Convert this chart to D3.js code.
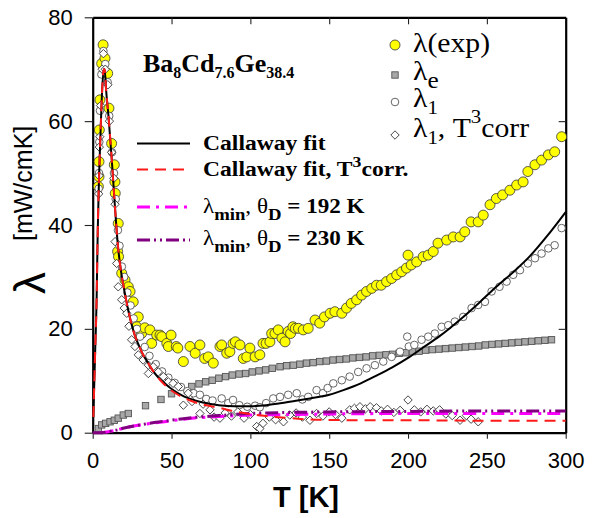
<!DOCTYPE html>
<html>
<head>
<meta charset="utf-8">
<script src="https://cdn.jsdelivr.net/npm/d3@7"></script>
<style>
  body { margin: 0; background: #fff; }
  svg { display: block; }
  .tick text { font-family: "Liberation Sans", Arial, sans-serif; font-size: 22px; fill: #000; }
  .serif { font-family: "Liberation Serif", "Times New Roman", serif; }
</style>
</head>
<body>
<div id="chart"></div>
<script>
// lambda(exp), yellow circles: [T, lambda]
const expData = [
  [3.6,47.4],[4,49.3],[4,52.2],[4.2,58.3],[4.6,64.1],[5.7,71.1],[6.6,74.7],[7.8,72.1],[9.5,69.2],[10.3,62.5],
  [12,55.7],[13.7,51.6],[14.1,48.3],[14.3,46.1],[16.2,40.3],[15.8,34.9],[16.4,33.9],[18.4,30.7],[20.5,29.4],[22.6,28.1],
  [23.7,27.2],[25.7,25.2],[28.9,22.3],[27.9,20.4],[31,19.1],[33,20.2],[36.3,19.8],[37.4,17.2],[40.6,18.8],[42.7,18.8],
  [43.8,18.5],[47,17.2],[48,16.6],[49.7,18.8],[53,16.6],[54,16.3],[57.5,13.7],[61.7,16.6],[65,15.3],[68,16.9],
  [71,14.3],[73.3,14.6],[76.5,13.4],[80.7,16.6],[81.8,16.9],[85,15.3],[87,15.6],[89,17.2],[90.5,17.5],[93.4,16.9],
  [95.5,14.3],[97.7,14.6],[99.7,16.3],[103,14.6],[106,15],[108,17.2],[110,17.2],[112.4,17.5],[113.5,19.1],[115.6,19.1],
  [117.7,19.8],[120,18.2],[122,17.5],[124,19.5],[125.5,19.1],[127,20.4],[128.5,20.1],[130.5,20.1],[133.5,19.8],[136.7,20.1],
  [141,21.7],[144,21.1],[147,22.3],[150.6,23],[153.6,23.3],[158,23],[161,24],[164,24.9],[167.4,25.6],[170.6,26.5],
  [173.7,27.2],[177,27.8],[180,28.4],[183,28.4],[186.4,29.1],[189.6,29.7],[192.8,30.4],[196,31],[199,31.7],[200,34.2],
  [202,32.3],[205.5,32.9],[209.6,33.9],[212.8,34.2],[216,34.9],[219,36.5],[224.5,37.1],[228.7,37.7],[233,37.7],[236,38.7],
  [240,40.6],[244.5,40.6],[247.7,41.9],[252,43.9],[256,45.1],[260,45.8],[264.6,46.7],[268.9,47.7],[273,48.3],[276,50.3],
  [280.5,51.6],[284.7,52.5],[289,53.5],[293,54.1],[297.4,57]
];

// lambda_e, grey squares
const elecData = [
  [3.6,0.8],[5.7,1.5],[8.2,1.8],[11,2.1],[13.7,2.4],[16.2,2.8],[19.4,3.4],[22.6,3.7],[33.5,5.2],[43.3,6.4],
  [50,7.5],[62.8,8.9],[67.4,9.4],[71.7,9.8],[75.8,10.1],[80,10.5],[84.3,10.8],[88.5,11.1],[92.8,11.3],[97,11.4],
  [101.2,11.7],[105.5,11.9],[109.7,12.1],[113.9,12.4],[118.8,12.7],[123,12.9],[127.2,13.0],[131.4,13.2],[135.6,13.4],[139.8,13.5],
  [144,13.7],[148.2,13.8],[152.4,14.0],[156.6,14.1],[160.8,14.2],[165,14.4],[169.2,14.5],[173.4,14.6],[177.6,14.8],[181.8,14.9],
  [186,15.0],[190.2,15.1],[194.4,15.3],[198.6,15.4],[202.8,15.6],[207,15.7],[211.2,15.9],[215.4,16.0],[219.6,16.1],[223.8,16.2],
  [228,16.3],[232.2,16.4],[236.4,16.5],[240.6,16.6],[244.8,16.7],[249,16.9],[253.2,17.0],[257.4,17.1],[261.6,17.2],[265.8,17.3],
  [270,17.4],[274.2,17.5],[278.4,17.6],[282.6,17.7],[286.8,17.8],[291,17.9]
];

// lambda_1, open circles
const l1Data = [
  [3.8,47],[4,50],[4.2,56],[4.6,62],[5.5,69],[6.8,73.5],[8,71],[9.5,67.5],[10.5,61],[12.2,54],
  [13.5,50],[14.6,45],[16,39],[17,36],[18.5,32],[20,30],[22,27],[24,24.5],[26,22],[28,20],
  [30,18.5],[33,16.5],[36,14.8],[40,13.2],[44,11.8],[48,10.6],[52,9.6],[56,8.8],[60,8],[64,7.6],
  [68,7.3],[72,6.5],[76,6.2],[81.8,6.6],[86,5.7],[89,6.3],[93,5.3],[98,5],[103,5.2],[106,4.9],
  [110,5.7],[114.5,6.6],[118.8,6.9],[124,7.3],[129.4,7.6],[133,6.4],[136.7,6.9],[142,8.2],[146,7.6],[149,8.6],
  [152.6,9.5],[158,10.1],[163,10.8],[168.4,11.7],[173.7,12.4],[179,13],[184.3,13.7],[189.6,14.6],[194.9,15.6],[199.5,18.5],
  [200.5,16.6],[204,16.9],[208.6,17.9],[212.8,18.5],[217,19.1],[221.3,20.4],[225.5,20.7],[229.7,21.4],[235,22.3],[240.3,24],
  [244.5,24.6],[248.8,25.2],[253,27.2],[258,28.1],[262.5,29.1],[266.7,30.4],[271,31.3],[276,32.6],[280.5,33.6],[284.7,34.5],
  [289,35.5],[293,36.1],[297.4,39.4]
];

// lambda_1 with T^3 correction, diamonds
const l1corrData = [
  [3.8,46],[4,49.5],[4.2,55],[4.5,57],[5,63],[6,70],[6.8,73],[8,70],[9.6,67],[10.6,60],
  [12,54],[13.4,49],[14.2,44],[14.2,36.8],[15.2,32.6],[16.2,28.1],[18.4,25.6],[20,24],[21.6,23],[23,20.5],
  [24.7,17.9],[26.8,16.6],[28.9,15],[32,14],[35.3,13],[35.3,11.4],[38.4,12.7],[41.6,11.7],[44.8,10.8],[48,9.8],
  [51,9.5],[54.3,8.9],[57.5,5.3],[60.6,7.6],[63,6],[68,3.7],[70,5.5],[74.4,4.4],[77,3],[80.7,2.8],
  [84,3.8],[88,3.2],[92,4],[96,2.8],[100,3.5],[104,1.2],[106,0.8],[108,1.8],[112,3],[116,2.5],
  [121,2.1],[125,3.4],[129,3.8],[133,3],[137.8,2.4],[142,3.7],[146,3.2],[150,4],[154,3.5],[158,2.8],
  [163,4.4],[166,4.7],[169.5,5],[173,4.6],[176,5],[180,4.8],[183,4.2],[187,4.5],[191,3.9],[195,4.3],
  [200,6.3],[204,4.4],[208,4],[212,4.5],[216,4.2],[220,4.4],[224,3.6],[228,3.3],[233,2.4],[237,3.3],
  [240,2.6],[244.5,2.1]
];

// Callaway fit (solid black)
const fitData = [
  [0.4,3],[1.5,15],[2.5,26],[3.2,39],[4,49],[5,58],[6,66],[7,70],[7.6,70],[8.5,66],
  [10,61],[12,53],[14,44],[16,36],[18,31],[20,27.5],[22.6,23.5],[25,20.5],[27,18.5],[30,16.3],
  [32,15],[35,13.5],[37.4,12.3],[40,11.2],[43.8,10],[48,8.9],[52,8],[56,7.3],[61,6.6],[70,5.8],
  [80,5.3],[90,5.1],[100,5.1],[110,5.3],[120,5.7],[130,6.2],[137.8,6.6],[150,7.3],[159,8.2],[170,9.5],
  [180,11],[190,12.6],[201,14.6],[210,16.5],[220,18.6],[235,22.3],[245,25],[256,28.1],[267,31],[277,33.9],
  [288,37.8],[300,42.5]
];

// Callaway fit, T^3 corr. (red dashed)
const fitCorrData = [
  [0.4,3],[1.5,15],[2.5,26],[3.2,39],[4,49],[5,58],[6,66],[7,70],[7.6,70],[8.5,66],
  [10,61],[12,53],[14,44],[16,36],[18,31],[20,27.5],[22.6,23.5],[25,20.5],[27,18.5],[30,16.3],
  [32,15],[35,13.5],[37.4,12.3],[40,11.2],[43.8,9.8],[48,8.6],[52,7.7],[56,7],[61,6.3],[70,5.4],
  [80,4.8],[90,4.1],[100,3.6],[110,3.2],[125,2.8],[142,2.5],[170,2.4],[200,2.4],[250,2.3],[300,2.3]
];

// lambda_min, theta_D = 192 K (magenta)
const min192Data = [
  [5,0],[10,0.2],[15,0.5],[20,0.9],[30,1.5],[40,1.9],[50,2.3],[60,2.7],[80,3.1],[100,3.4],
  [125,3.5],[150,3.6],[200,3.7],[250,3.7],[300,3.7]
];

// lambda_min, theta_D = 230 K (purple)
const min230Data = [
  [0,0],[6,0],[10,0.2],[15,0.5],[20,0.9],[30,1.5],[40,2.0],[50,2.4],[60,2.8],[80,3.3],
  [100,3.7],[125,3.9],[150,4.0],[200,4.1],[250,4.2],[300,4.2]
];

const xTicks = [0, 50, 100, 150, 200, 250, 300];
const yTicks = [0, 20, 40, 60, 80];

function renderChart() {
  const width = 593, height = 518;
  const svg = d3.select("#chart").append("svg").attr("width", width).attr("height", height);

  const x = d3.scaleLinear().domain([0, 300]).range([92.7, 565.7]);
  const y = d3.scaleLinear().domain([0, 80]).range([432.7, 17.3]);

  // axes, mirrored ticks point inward on top and right
  const axL = svg.append("g").attr("transform", `translate(${x(0)},0)`)
    .call(d3.axisLeft(y).tickValues(yTicks).tickSize(8).tickPadding(12).tickSizeOuter(0));
  const axB = svg.append("g").attr("transform", `translate(0,${y(0)})`)
    .call(d3.axisBottom(x).tickValues(xTicks).tickSize(6).tickPadding(14).tickSizeOuter(0));
  const axT = svg.append("g").attr("transform", `translate(0,${y(80)})`)
    .call(d3.axisBottom(x).tickValues(xTicks.slice(1, -1)).tickSize(7).tickFormat("").tickSizeOuter(0));
  const axR = svg.append("g").attr("transform", `translate(${x(300)},0)`)
    .call(d3.axisLeft(y).tickValues(yTicks.slice(1, -1)).tickSize(7).tickFormat("").tickSizeOuter(0));
  [axL, axB, axT, axR].forEach(a => {
    a.select(".domain").attr("stroke", "#000").attr("stroke-width", 2.2);
    a.selectAll(".tick line").attr("stroke", "#222").attr("stroke-width", 1.1);
  });

  // markers
  svg.append("g").selectAll("rect").data(elecData).enter().append("rect")
    .attr("x", d => x(d[0]) - 3.2).attr("y", d => y(d[1]) - 3.2)
    .attr("width", 6.4).attr("height", 6.4)
    .attr("fill", "#a8a8a8").attr("stroke", "#555").attr("stroke-width", 0.9);

  svg.append("g").selectAll("circle").data(expData).enter().append("circle")
    .attr("cx", d => x(d[0])).attr("cy", d => y(d[1])).attr("r", 5)
    .attr("fill", "#ffff00").attr("stroke", "#333").attr("stroke-width", 0.8);

  svg.append("g").selectAll("circle").data(l1Data).enter().append("circle")
    .attr("cx", d => x(d[0])).attr("cy", d => y(d[1])).attr("r", 3.8)
    .attr("fill", "#fff").attr("stroke", "#555").attr("stroke-width", 0.9);

  const diamond = "M0,-4.2L4.2,0L0,4.2L-4.2,0Z";
  svg.append("g").selectAll("path").data(l1corrData).enter().append("path")
    .attr("transform", d => `translate(${x(d[0])},${y(d[1])})`)
    .attr("d", diamond)
    .attr("fill", "#fff").attr("stroke", "#333").attr("stroke-width", 0.9);

  // lines
  const line = d3.line().x(d => x(d[0])).y(d => y(d[1])).curve(d3.curveMonotoneX);
  const lineStyles = [
    { data: min192Data, color: "#ff00ff", w: 3, dash: "13,6,3,6" },
    { data: min230Data, color: "#800080", w: 3, dash: "13,4,2,4,2,4" },
    { data: fitData, color: "#000", w: 2, dash: null },
    { data: fitCorrData, color: "#ff1a1a", w: 2, dash: "11,7" }
  ];
  lineStyles.forEach(s => {
    svg.append("path").datum(s.data).attr("d", line)
      .attr("fill", "none").attr("stroke", s.color).attr("stroke-width", s.w)
      .attr("stroke-dasharray", s.dash);
  });

  // axis titles
  svg.append("text").attr("x", 273).attr("y", 507)
    .attr("font-family", "Liberation Sans, Arial, sans-serif").attr("font-weight", "bold")
    .attr("font-size", 29).text("T [K]");
  svg.append("text").attr("transform", "translate(45,294) rotate(-90)")
    .attr("font-family", "Liberation Sans, Arial, sans-serif").attr("font-size", 44).text("λ");
  svg.append("text").attr("transform", "translate(32,241) rotate(-90)")
    .attr("font-family", "Liberation Sans, Arial, sans-serif").attr("font-size", 25).text("[mW/cmK]");

  // compound title
  const title = svg.append("text").attr("class", "serif").attr("x", 143).attr("y", 72)
    .attr("font-weight", "bold").attr("font-size", 26);
  title.append("tspan").text("Ba");
  title.append("tspan").attr("font-size", 16).attr("dy", 6).text("8");
  title.append("tspan").attr("dy", -6).text("Cd");
  title.append("tspan").attr("font-size", 16).attr("dy", 6).text("7.6");
  title.append("tspan").attr("dy", -6).text("Ge");
  title.append("tspan").attr("font-size", 16).attr("dy", 6).text("38.4");

  // right legend (markers)
  const lx = 395;
  svg.append("circle").attr("cx", lx).attr("cy", 45).attr("r", 5)
    .attr("fill", "#ffff00").attr("stroke", "#333").attr("stroke-width", 0.8);
  svg.append("rect").attr("x", lx - 3.2).attr("y", 71.8).attr("width", 6.4).attr("height", 6.4)
    .attr("fill", "#a8a8a8").attr("stroke", "#555").attr("stroke-width", 0.9);
  svg.append("circle").attr("cx", lx).attr("cy", 102).attr("r", 3.8)
    .attr("fill", "#fff").attr("stroke", "#555").attr("stroke-width", 0.9);
  svg.append("path").attr("transform", `translate(${lx},135)`).attr("d", diamond)
    .attr("fill", "#fff").attr("stroke", "#333").attr("stroke-width", 0.9);

  const rl = (yy) => svg.append("text").attr("class", "serif")
    .attr("transform", `translate(413,${yy}) scale(1.1,1)`).attr("font-size", 27);
  rl(52).text("λ(exp)");
  const r2 = rl(80); r2.append("tspan").text("λ");
  r2.append("tspan").attr("font-size", 23).attr("dy", 8).text("e");
  const r3 = rl(107); r3.append("tspan").text("λ");
  r3.append("tspan").attr("font-size", 19).attr("dy", 7).text("1");
  const r4 = rl(137); r4.append("tspan").text("λ");
  r4.append("tspan").attr("font-size", 19).attr("dy", 7).text("1");
  r4.append("tspan").attr("dy", -7).text(",  T");
  r4.append("tspan").attr("font-size", 19).attr("dy", -14).text("3");
  r4.append("tspan").attr("dy", 14).text("corr");

  // left legend (lines)
  const legLines = [
    { yy: 143.5, color: "#000", w: 2, dash: null },
    { yy: 169.5, color: "#ff1a1a", w: 2, dash: "11,7" },
    { yy: 207, color: "#ff00ff", w: 3, dash: "13,6,3,6" },
    { yy: 240, color: "#800080", w: 3, dash: "13,4,2,4,2,4" }
  ];
  legLines.forEach(s => {
    svg.append("line").attr("x1", 137).attr("x2", 190).attr("y1", s.yy).attr("y2", s.yy)
      .attr("stroke", s.color).attr("stroke-width", s.w).attr("stroke-dasharray", s.dash);
  });

  const ll = (yy) => svg.append("text").attr("class", "serif")
    .attr("transform", `translate(203,${yy}) scale(1.18,1)`)
    .attr("font-size", 20).attr("font-weight", "bold");
  ll(150).text("Callaway fit");
  const c2 = ll(176); c2.append("tspan").text("Callaway fit, T");
  c2.append("tspan").attr("font-size", 15).attr("dy", -9).text("3");
  c2.append("tspan").attr("dy", 9).text("corr.");
  [[213, "192 K"], [245, "230 K"]].forEach(([yy, t]) => {
    const m = svg.append("text").attr("class", "serif")
      .attr("transform", `translate(203,${yy}) scale(1.1,1)`).attr("font-size", 21);
    m.append("tspan").attr("font-weight", "normal").text("λ");
    m.append("tspan").attr("font-weight", "bold").attr("font-size", 17).attr("dy", 7).text("min");
    m.append("tspan").attr("dy", -7).text(", θ");
    m.append("tspan").attr("font-weight", "bold").attr("font-size", 17).attr("dy", 7).text("D");
    m.append("tspan").attr("font-weight", "bold").attr("dy", -7).text(" = " + t);
  });
}

renderChart();
</script>
</body>
</html>
